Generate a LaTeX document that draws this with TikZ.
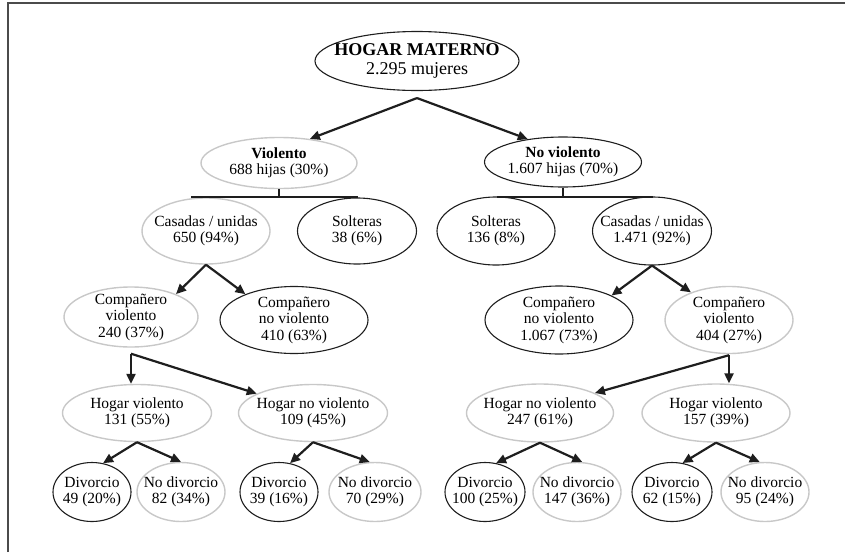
\documentclass[tikz,border=0pt]{standalone}
\usepackage{fontspec}
\setmainfont{Liberation Serif}
\usetikzlibrary{shapes.geometric,arrows.meta}
\definecolor{lgray}{RGB}{200,200,200}
\definecolor{dk}{RGB}{30,30,30}
\tikzset{
  el/.style={ellipse, inner sep=0pt, minimum width=#1},
  blk/.style={el=#1, draw=dk, line width=1.1pt},
  gry/.style={el=#1, draw=lgray, line width=1.4pt},
  txt/.style={align=center, font=\fontsize{15.5}{16.5}\selectfont, inner sep=0pt},
  big/.style={align=center, font=\fontsize{18}{18.5}\selectfont, inner sep=0pt},
  arr/.style={draw=dk, line width=2.2pt, -{Triangle[length=10pt,width=9pt]}},
  bar/.style={draw=dk, line width=1.3pt},
}
\begin{document}
\begin{tikzpicture}[x=1pt,y=-1pt]
\useasboundingbox (0,0) rectangle (845,552);
\draw[line width=1.5pt, draw=dk!80] (8,552) -- (8,3) -- (845,3);

% level 0
\node[blk=204pt, minimum height=59pt, label={[big]center:\textbf{HOGAR MATERNO}\\2.295 mujeres}] (root) at (417,61) {};
% level 1
\node[gry=156pt, minimum height=51pt, label={[txt]center:\textbf{Violento}\\688 hijas (30\%)}] (viol) at (279,163) {};
\node[blk=157pt, minimum height=50pt, label={[txt]center:\textbf{No violento}\\1.607 hijas (70\%)}] (nviol) at (563,162) {};
% level 2
\node[gry=128pt, minimum height=66pt, label={[txt]center:Casadas / unidas\\650 (94\%)}] (casL) at (206,231) {};
\node[blk=119pt, minimum height=66pt, label={[txt]center:Solteras\\38 (6\%)}] (solL) at (357,231) {};
\node[blk=118pt, minimum height=68pt, label={[txt]center:Solteras\\136 (8\%)}] (solR) at (496,231) {};
\node[blk=119pt, minimum height=68pt, label={[txt]center:Casadas / unidas\\1.471 (92\%)}] (casR) at (652,231) {};
% level 3
\node[gry=134pt, minimum height=60pt, label={[txt]center:Compañero\\violento\\240 (37\%)}] (cvL) at (131,317) {};
\node[blk=148pt, minimum height=67pt, label={[txt]center:Compañero\\no violento\\410 (63\%)}] (cnvL) at (294,320) {};
\node[blk=148pt, minimum height=68pt, label={[txt]center:Compañero\\no violento\\1.067 (73\%)}] (cnvR) at (559,320) {};
\node[gry=128pt, minimum height=67pt, label={[txt]center:Compañero\\violento\\404 (27\%)}] (cvR) at (729,320) {};
% level 4
\node[gry=149pt, minimum height=57pt, label={[txt]center:Hogar violento\\131 (55\%)}] (hvL) at (137,413) {};
\node[gry=149pt, minimum height=57pt, label={[txt]center:Hogar no violento\\109 (45\%)}] (hnvL) at (313,413) {};
\node[gry=147pt, minimum height=58pt, label={[txt]center:Hogar no violento\\247 (61\%)}] (hnvR) at (540,413) {};
\node[gry=148pt, minimum height=58pt, label={[txt]center:Hogar violento\\157 (39\%)}] (hvR) at (716,413) {};
% level 5
\node[blk=78pt, minimum height=59pt, label={[txt]center:Divorcio\\49 (20\%)}] (d1) at (92,492) {};
\node[gry=88pt, minimum height=59pt, label={[txt]center:No divorcio\\82 (34\%)}] (n1) at (181,492) {};
\node[blk=78pt, minimum height=59pt, label={[txt]center:Divorcio\\39 (16\%)}] (d2) at (279,492) {};
\node[gry=92pt, minimum height=59pt, label={[txt]center:No divorcio\\70 (29\%)}] (n2) at (375,492) {};
\node[blk=80pt, minimum height=59pt, label={[txt]center:Divorcio\\100 (25\%)}] (d3) at (485,492) {};
\node[gry=88pt, minimum height=59pt, label={[txt]center:No divorcio\\147 (36\%)}] (n3) at (577,492) {};
\node[blk=80pt, minimum height=59pt, label={[txt]center:Divorcio\\62 (15\%)}] (d4) at (672,492) {};
\node[gry=88pt, minimum height=59pt, label={[txt]center:No divorcio\\95 (24\%)}] (n4) at (765,492) {};

% bars
\coordinate (bL1) at (191,197);
\coordinate (bL2) at (358,197);
\coordinate (bR1) at (497,197);
\coordinate (bR2) at (653,197);
\draw[bar] (viol.south) -- (viol.south |- bL1);
\draw[bar] (bL1) -- (bL2);
\draw[bar] (nviol.south) -- (nviol.south |- bR1);
\draw[bar] (bR1) -- (bR2);

% arrows
\coordinate (a0) at ([yshift=-7pt]root.south);
\draw[arr] (a0) -- (viol.38);
\draw[arr] (a0) -- (nviol.147);
\draw[arr] (casL.south) -- (cvL.27);
\draw[arr] (casL.south) -- (cnvL.152);
\draw[arr] (casR.south) -- (cnvR.25);
\draw[arr] (casR.south) -- (cvR.144);
\coordinate (aL) at ([yshift=-6pt]cvL.south);
\draw[arr] (aL) -- (aL |- hvL.north);
\draw[arr] (aL) -- (hnvL.161);
\coordinate (aR) at ([yshift=-1pt]cvR.south);
\draw[arr] (aR) -- (aR |- hvR.north);
\draw[arr] (aR) -- (hnvR.20);
\draw[arr] (hvL.south) -- (d1.69);
\draw[arr] (hvL.south) -- (n1.north);
\draw[arr] (hnvL.south) -- (d2.69);
\draw[arr] (hnvL.south) -- (n2.100);
\draw[arr] (hnvR.south) -- (d3.69);
\draw[arr] (hnvR.south) -- (n3.80);
\draw[arr] (hvR.south) -- (d4.70);
\draw[arr] (hvR.south) -- (n4.100);
\end{tikzpicture}
\end{document}
